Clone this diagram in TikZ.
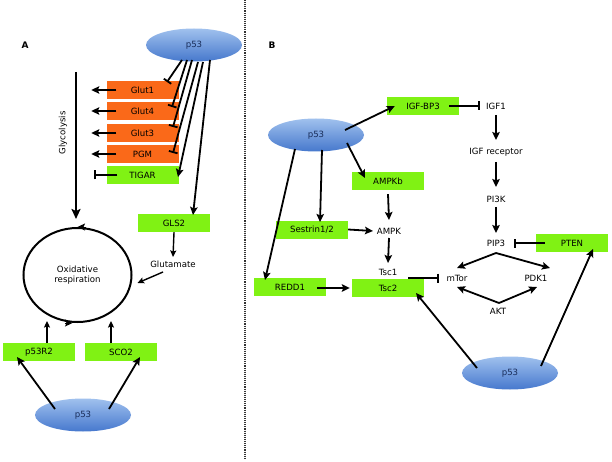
\documentclass[tikz,border=0pt]{standalone}
\usepackage{fontspec}
\setmainfont{DejaVu Sans}
\usetikzlibrary{shapes.geometric,arrows.meta}
\definecolor{boxorange}{RGB}{250,105,25}
\definecolor{boxgreen}{RGB}{128,242,20}
\definecolor{ptop}{RGB}{160,193,238}
\definecolor{pbot}{RGB}{70,120,205}
\definecolor{ptext}{RGB}{25,45,90}

\begin{document}
\begin{tikzpicture}[x=1pt,y=1pt,
    font=\fontsize{8.6}{10}\selectfont,
    gbox/.style={fill=boxgreen, minimum width=72pt, minimum height=18pt, inner sep=0pt},
    obox/.style={gbox, fill=boxorange},
    txt/.style={inner sep=1pt},
    prot/.style={ellipse, minimum width=96pt, minimum height=33pt, inner sep=0pt,
                 top color=ptop, bottom color=pbot, text=ptext},
    act/.style={line width=1.8pt, -{Stealth[length=8pt,width=7.5pt,inset=1.5pt]}},
    inh/.style={line width=1.8pt, -{Bar[width=9pt]}},
    thinact/.style={line width=1.4pt, -{Stealth[length=6.5pt,width=6pt,inset=1pt]}}]
    \useasboundingbox (0,0) rectangle (612,-462);

    % panel divider
    \draw[densely dotted, line width=1.1pt, black!80] (245,0) -- (245,-458);

    % ---------------- panel A ----------------
    \node[font=\bfseries\fontsize{9}{10}\selectfont] (labA) at (25,-45) {A};
    \node[prot] (p53a) at (194,-45) {p53};

    \foreach \n/\t/\y in {glut1/Glut1/90, glut4/Glut4/111, glut3/Glut3/133, pgm/PGM/154}{
      \node[obox] (\n) at (142.5,-\y) {\t};
    }
    \node[gbox] (tigar) at (142.5,-175) {TIGAR};
    \node[gbox] (gls2) at (174,-223) {GLS2};
    \node[txt] (glu) at (173,-264) {Glutamate};
    \node[ellipse, draw, line width=2pt, minimum width=108pt, minimum height=94pt,
          inner sep=0pt, align=center] (resp) at (77.5,-275) {Oxidative\\respiration};
    \node[gbox] (p53r2) at (39,-352) {p53R2};
    \node[gbox] (sco2) at (121,-352) {SCO2};
    \node[prot] (p53c) at (83,-415) {p53};
    \node[txt, rotate=90] (glylab) at (63,-133) {Glycolysis};
    \coordinate (glytop) at (76,-72);

    \foreach \n in {glut1,glut4,glut3,pgm}
      \draw[act] ([xshift=10]\n.west) -- ([xshift=-15]\n.west);
    \draw[inh] ([xshift=11]tigar.west) -- ([xshift=-12]tigar.west);

    % p53 on the glycolysis genes
    \foreach \s/\n/\e in {{(-12,-15)}/glut1/{(24.5,8)}, {(-7,-15)}/glut4/{(29.5,4)},
                          {(-2,-15)}/glut3/{(30.5,6)}, {(4,-17)}/pgm/{(30.5,1)}}
      \draw[inh] ([shift=\s]p53a.center) -- ([shift=\e]\n.center);
    \draw[act] ([shift={(9,-17)}]p53a.center) -- ([shift={(35.5,-2)}]tigar.center);
    \draw[act] ([shift={(16,-15)}]p53a.center) -- ([shift={(19,8)}]gls2.center);

    \draw[line width=2.2pt, -{Stealth[length=10pt,width=9pt,inset=2pt]}]
      (glytop) -- ([shift={(-1.5,8)}]resp.north);
    \draw[thinact] (gls2.south) -- ([yshift=7]glu.center);
    \draw[thinact] ([shift={(-10,-8)}]glu.center) -- ([shift={(5,-8)}]resp.east);
    \draw[thinact] ([shift={(8,9)}]p53r2.center) -- ([shift={(-30.5,2)}]resp.south);
    \draw[thinact] ([shift={(-10,9)}]sco2.center) -- ([shift={(33.5,2)}]resp.south);
    \draw[act] ([shift={(-28,6)}]p53c.center) -- ([shift={(-22,-5)}]p53r2.center);
    \draw[act] ([shift={(26,6)}]p53c.center) -- ([shift={(19,-5)}]sco2.center);

    % direction of the cycle
    \draw[line width=1pt, -{Stealth[length=7.5pt,width=7pt,inset=1.5pt]}]
      ([xshift=8]resp.north) -- ([xshift=0]resp.north);
    \draw[line width=1pt, -{Stealth[length=7.5pt,width=7pt,inset=1.5pt]}]
      ([xshift=-13]resp.south) -- ([xshift=-5]resp.south);

    % ---------------- panel B ----------------
    \node[font=\bfseries\fontsize{9}{10}\selectfont] (labB) at (272,-45) {B};
    \node[prot] (p53b) at (316,-135) {p53};
    \node[gbox] (igfbp3) at (423,-106) {IGF-BP3};
    \node[txt] (igf1) at (496,-106) {IGF1};
    \node[txt] (igfr) at (496,-152) {IGF receptor};
    \node[txt] (pi3k) at (496,-199) {PI3K};
    \node[txt] (pip3) at (496,-243) {PIP3};
    \node[gbox] (pten) at (572,-243) {PTEN};
    \node[txt] (mtor) at (457,-278) {mTor};
    \node[txt] (pdk1) at (536,-278) {PDK1};
    \node[txt] (akt) at (498,-311) {AKT};
    \node[gbox] (ampkb) at (388,-181) {AMPKb};
    \node[txt] (ampk) at (389,-231) {AMPK};
    \node[gbox] (sestrin) at (312,-229.5) {Sestrin1/2};
    \node[txt] (tsc1) at (388,-272) {Tsc1};
    \node[gbox] (tsc2) at (388,-288) {Tsc2};
    \node[gbox] (redd1) at (290,-287) {REDD1};
    \node[prot] (p53d) at (510,-373) {p53};

    \draw[act] ([shift={(29,5)}]p53b.center) -- ([xshift=8]igfbp3.west);
    \draw[inh] ([xshift=-10]igfbp3.east) -- ([xshift=-16]igf1.center);
    \draw[act] ([yshift=-9]igf1.center) -- ([yshift=12]igfr.center);
    \draw[act] ([yshift=-10]igfr.center) -- ([yshift=12]pi3k.center);
    \draw[act] ([yshift=-8]pi3k.center) -- ([yshift=10]pip3.center);
    \draw[inh] ([xshift=9]pten.west) -- ([xshift=18]pip3.center);
    \draw[act] ([yshift=-10]pip3.center) -- ([yshift=10]mtor.center);
    \draw[act] ([yshift=-10]pip3.center) -- ([shift={(14,10)}]pdk1.center);
    \draw[act] ([shift={(1,8)}]akt.center) -- ([yshift=-9]mtor.center);
    \draw[act] ([shift={(1,8)}]akt.center) -- ([shift={(1,-9)}]pdk1.center);
    \draw[inh] ([shift={(20,10)}]tsc2.center) -- ([xshift=-18]mtor.center);
    \draw[act] ([yshift=-7]ampk.center) -- ([yshift=9]tsc1.center);
    \draw[act] ([yshift=-4]ampkb.south) -- ([yshift=11]ampk.center);
    \draw[act] (sestrin.east) -- ([xshift=-16]ampk.center);
    \draw[act] ([shift={(27,-1)}]redd1.center) -- ([xshift=-2]tsc2.west);
    \draw[act] ([shift={(31,-8)}]p53b.center) -- ([shift={(-23,3)}]ampkb.center);
    \draw[act] ([shift={(6,-15)}]p53b.center) -- ([shift={(8,7.5)}]sestrin.center);
    \draw[act] ([shift={(-21,-14)}]p53b.center) -- ([shift={(-25,7)}]redd1.center);
    \draw[act] ([shift={(-33,5)}]p53d.center) -- ([shift={(28,-5)}]tsc2.center);
    \draw[act] ([shift={(31,7)}]p53d.center) -- ([shift={(21,-6)}]pten.center);
  \end{tikzpicture}
\end{document}
